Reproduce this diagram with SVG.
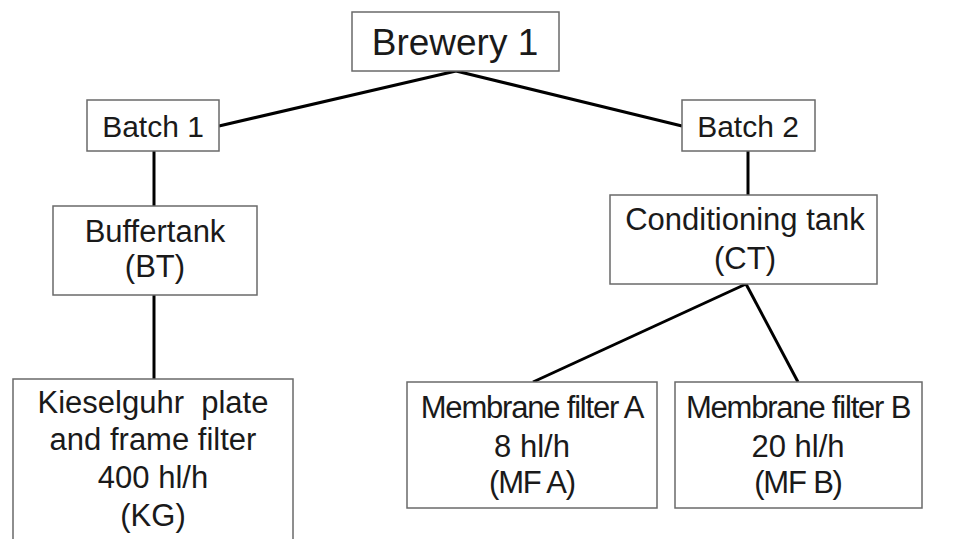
<svg xmlns="http://www.w3.org/2000/svg" width="976" height="539" viewBox="0 0 976 539">
<style>
.box{fill:#fff;stroke:#6a6a6a;stroke-width:1.5}
.t{font-family:"Liberation Sans",Arial,sans-serif;font-size:31px;fill:#1a1a1a;text-anchor:middle}
.n{letter-spacing:-1.2px}
.c{stroke:#000;stroke-width:3;fill:none}
</style>
<rect width="976" height="539" fill="#fff"/>
<g id="connectors">
<line class="c" x1="456" y1="71" x2="219" y2="126"/>
<line class="c" x1="456" y1="71" x2="682" y2="126"/>
<line class="c" x1="154" y1="151" x2="154" y2="206"/>
<line class="c" x1="154" y1="295" x2="154" y2="379"/>
<line class="c" x1="748" y1="151" x2="748" y2="195"/>
<line class="c" x1="746" y1="284" x2="533" y2="382"/>
<line class="c" x1="746" y1="284" x2="798" y2="382"/>
</g>
<g id="brewery1">
<rect class="box" x="352" y="12" width="207" height="59"/>
<text class="t" x="455" y="55" style="font-size:37px">Brewery 1</text>
</g>
<g id="batch1">
<rect class="box" x="87" y="100" width="132" height="51"/>
<text class="t" x="153" y="137" style="font-size:30px">Batch 1</text>
</g>
<g id="batch2">
<rect class="box" x="682" y="100" width="133" height="51"/>
<text class="t" x="748" y="137" style="font-size:30px">Batch 2</text>
</g>
<g id="bt">
<rect class="box" x="53" y="206" width="204" height="89"/>
<text class="t" x="155" y="242">Buffertank</text>
<text class="t" x="155" y="277">(BT)</text>
</g>
<g id="ct">
<rect class="box" x="610" y="195" width="267" height="89"/>
<text class="t" x="745" y="230">Conditioning tank</text>
<text class="t" x="745" y="269">(CT)</text>
</g>
<g id="kg">
<rect class="box" x="13" y="379" width="280" height="170"/>
<text class="t" x="153" y="413" xml:space="preserve">Kieselguhr  plate</text>
<text class="t" x="153" y="450">and frame filter</text>
<text class="t" x="153" y="488">400 hl/h</text>
<text class="t" x="153" y="526">(KG)</text>
</g>
<g id="mfa">
<rect class="box" x="407" y="382" width="250" height="126"/>
<text class="t n" x="532" y="418">Membrane filter A</text>
<text class="t" x="532" y="457">8 hl/h</text>
<text class="t n" x="532" y="493">(MF A)</text>
</g>
<g id="mfb">
<rect class="box" x="675" y="382" width="247" height="126"/>
<text class="t n" x="798" y="418">Membrane filter B</text>
<text class="t" x="798" y="457">20 hl/h</text>
<text class="t n" x="798" y="493">(MF B)</text>
</g>
</svg>
